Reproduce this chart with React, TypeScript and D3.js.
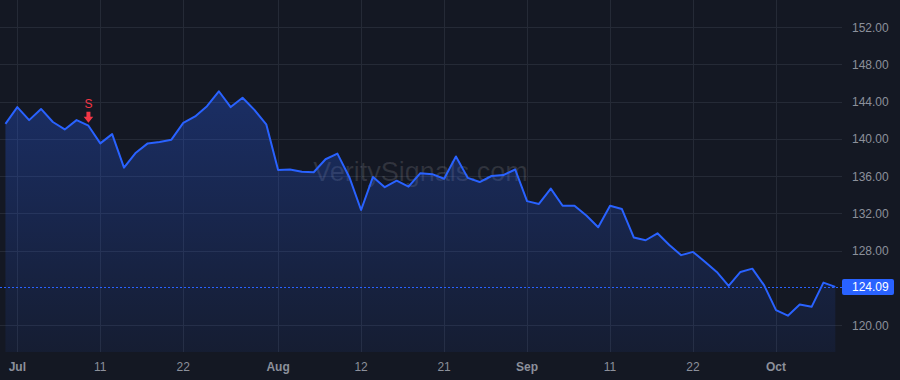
import React from "react";
import * as d3 from "d3";

const dates: string[] = [
  "2025-06-30",
  "2025-07-01", "2025-07-02", "2025-07-03", "2025-07-07", "2025-07-08", "2025-07-09", "2025-07-10", "2025-07-11",
  "2025-07-14", "2025-07-15", "2025-07-16", "2025-07-17", "2025-07-18", "2025-07-21", "2025-07-22", "2025-07-23",
  "2025-07-24", "2025-07-25", "2025-07-28", "2025-07-29", "2025-07-30", "2025-07-31",
  "2025-08-01", "2025-08-04", "2025-08-05", "2025-08-06", "2025-08-07", "2025-08-08", "2025-08-11", "2025-08-12",
  "2025-08-13", "2025-08-14", "2025-08-15", "2025-08-18", "2025-08-19", "2025-08-20", "2025-08-21", "2025-08-22",
  "2025-08-25", "2025-08-26", "2025-08-27", "2025-08-28", "2025-08-29",
  "2025-09-02", "2025-09-03", "2025-09-04", "2025-09-05", "2025-09-08", "2025-09-09", "2025-09-10", "2025-09-11",
  "2025-09-12", "2025-09-15", "2025-09-16", "2025-09-17", "2025-09-18", "2025-09-19", "2025-09-22", "2025-09-23",
  "2025-09-24", "2025-09-25", "2025-09-26", "2025-09-29", "2025-09-30",
  "2025-10-01", "2025-10-02", "2025-10-03", "2025-10-06", "2025-10-07", "2025-10-08",
];

const prices: number[] = [
  141.6, 143.4, 142.0, 143.2, 141.8, 141.0, 142.0, 141.4, 139.5, 140.5,
  136.9, 138.5, 139.5, 139.65, 139.9, 141.7, 142.4, 143.5, 145.1, 143.4,
  144.4, 143.1, 141.55, 136.65, 136.7, 136.45, 136.4, 137.8, 138.4, 135.9,
  132.35, 135.9, 134.8, 135.5, 134.85, 136.3, 136.2, 135.7, 138.1, 135.8,
  135.35, 136.0, 136.1, 136.7, 133.3, 133.0, 134.65, 132.8, 132.8, 131.75,
  130.5, 132.8, 132.45, 129.4, 129.1, 129.85, 128.6, 127.5, 127.85, 126.8,
  125.7, 124.2, 125.7, 126.05, 124.25, 121.6, 121.0, 122.2, 121.95, 124.55,
  124.09,
];

const xTickDates: string[] = [
  "2025-07-01", "2025-07-11", "2025-07-22", "2025-08-01", "2025-08-12",
  "2025-08-21", "2025-09-02", "2025-09-11", "2025-09-22", "2025-10-01",
];
const xTickLabels: string[] = ["Jul", "11", "22", "Aug", "12", "21", "Sep", "11", "22", "Oct"];
const xTickIsMonth: boolean[] = [true, false, false, true, false, false, true, false, false, true];

const yTickShown: number[] = [120, 128, 132, 136, 140, 144, 148, 152];
const yGrid: number[] = [120, 124, 128, 132, 136, 140, 144, 148, 152];

const signalDates: string[] = ["2025-07-10"];
const signalTypes: string[] = ["S"];

const lastPrice = 124.09;
const watermark = "VeritySignals.com";

const W = 900;
const H = 380;
const plotRight = 842;
const plotBottom = 352;
const BG = "#141823";
const GRID = "#252a36";
const BLUE = "#2962ff";
const TEXT = "#8c909b";
const RED = "#f23645";
const FONT = "'Liberation Sans', Arial, sans-serif";

export default function App() {
  const x = d3.scalePoint<string>().domain(dates).range([5.45, 835.3]);
  const y = d3.scaleLinear().domain([120, 152]).range([325, 27]);

  const data = dates.map((d, i) => ({ d, v: prices[i] }));
  const line = d3
    .line<{ d: string; v: number }>()
    .x((p) => x(p.d) as number)
    .y((p) => y(p.v));
  const area = d3
    .area<{ d: string; v: number }>()
    .x((p) => x(p.d) as number)
    .y0(plotBottom)
    .y1((p) => y(p.v));

  const topY = y(d3.max(prices) as number);

  return (
    <svg
      width={W}
      height={H}
      style={{ position: "fixed", left: 0, top: 0, display: "block", background: BG }}
    >
      <defs>
        <linearGradient id="fillGrad" x1="0" y1={topY} x2="0" y2={plotBottom} gradientUnits="userSpaceOnUse">
          <stop offset="0%" stopColor={BLUE} stopOpacity={0.3} />
          <stop offset="100%" stopColor={BLUE} stopOpacity={0.07} />
        </linearGradient>
      </defs>
      <rect x={0} y={0} width={W} height={H} fill={BG} />

      {/* horizontal grid (124 line hidden behind the last-price line) */}
      {yGrid.filter((t) => t !== 124).map((t) => (
        <line key={"hg" + t} x1={0} x2={plotRight} y1={Math.round(y(t)) + 0.5} y2={Math.round(y(t)) + 0.5} stroke={GRID} strokeWidth={1} />
      ))}
      {/* vertical grid */}
      {xTickDates.map((d) => {
        const px = Math.round(x(d) as number) + 0.5;
        return <line key={"vg" + d} x1={px} x2={px} y1={0} y2={plotBottom} stroke={GRID} strokeWidth={1} />;
      })}

      {/* watermark */}
      <text
        x={420.5}
        y={181}
        textAnchor="middle"
        fontFamily={FONT}
        fontSize={27}
        fill="rgba(255,255,255,0.12)"
      >
        {watermark}
      </text>

      {/* area + line */}
      <path d={area(data) || ""} fill="url(#fillGrad)" />
      <path d={line(data) || ""} fill="none" stroke={BLUE} strokeWidth={2} strokeLinejoin="round" />

      {/* last price dotted line */}
      <line
        x1={0}
        x2={plotRight}
        y1={Math.round(y(lastPrice)) + 0.5}
        y2={Math.round(y(lastPrice)) + 0.5}
        stroke={BLUE}
        strokeWidth={1}
        strokeDasharray="2,2"
      />

      {/* signals */}
      {signalDates.map((sd, k) => {
        const i = dates.indexOf(sd);
        const px = x(sd) as number;
        const py = y(prices[i]);
        const tip = py - 3;
        return (
          <g key={"sig" + sd} fill={RED}>
            <path
              d={`M${px - 2},${tip - 11} L${px + 2},${tip - 11} L${px + 2},${tip - 6} L${px + 4.8},${tip - 6} L${px},${tip} L${px - 4.8},${tip - 6} L${px - 2},${tip - 6} Z`}
            />
            <text x={px} y={tip - 14.5} textAnchor="middle" fontFamily={FONT} fontSize={12}>
              {signalTypes[k]}
            </text>
          </g>
        );
      })}

      {/* right axis labels */}
      {yTickShown.map((t) => (
        <text key={"yl" + t} x={852} y={y(t) + 4.5} fontFamily={FONT} fontSize={12} fill={TEXT}>
          {t.toFixed(2)}
        </text>
      ))}

      {/* last price label */}
      <rect x={842} y={y(lastPrice) - 8} width={52} height={16} rx={2} fill={BLUE} />
      <text x={852} y={y(lastPrice) + 4.5} fontFamily={FONT} fontSize={12} fill="#ffffff">
        {lastPrice.toFixed(2)}
      </text>

      {/* bottom axis labels */}
      {xTickDates.map((d, i) => (
        <text
          key={"xl" + d}
          x={x(d) as number}
          y={371}
          textAnchor="middle"
          fontFamily={FONT}
          fontSize={12}
          fontWeight={xTickIsMonth[i] ? "bold" : "normal"}
          fill={TEXT}
        >
          {xTickLabels[i]}
        </text>
      ))}
    </svg>
  );
}
